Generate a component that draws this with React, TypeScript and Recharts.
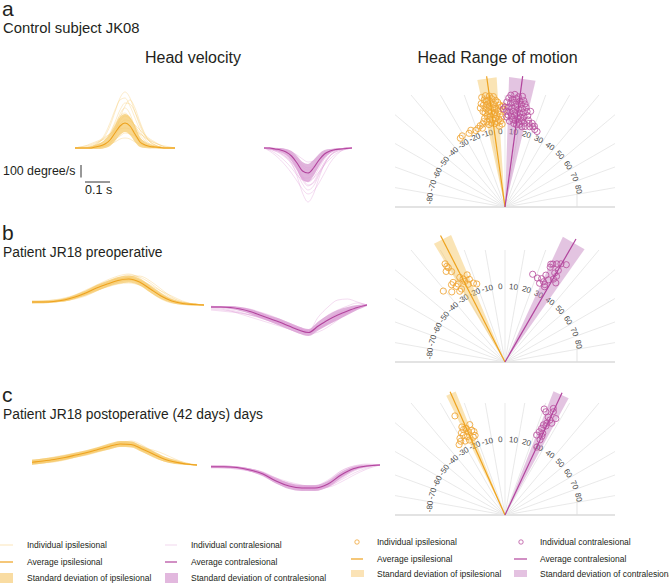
import React from 'react';
import { ComposedChart, Line, Area, XAxis, YAxis, ScatterChart, Scatter } from 'recharts';

const FONT = '"Liberation Sans", Arial, Helvetica, sans-serif';

// ---------------- Head velocity data (time in ms, velocity in degree/s) ----------------
// a: control subject JK08
const aIpsiTime = [0, 20, 40, 60, 80, 100, 120, 140, 160, 180, 200, 220, 240, 260, 280, 300, 320, 340, 360, 380, 400];
const aIpsiMean = [0, 0, 0, 0, 8, 16, 32, 64, 120, 176, 200, 176, 112, 48, 24, 12, 8, 4, 0, 0, 0];
const aIpsiSd = [0, 0, 0, 8, 16, 24, 32, 48, 64, 72, 72, 72, 64, 40, 24, 16, 8, 8, 0, 0, 0];
const aIpsiIndividual = [
  [0, 0, 0, 8, 24, 48, 96, 176, 288, 400, 448, 400, 288, 176, 96, 48, 24, 8, 0, 0, 0],
  [0, 0, 0, 0, 16, 32, 64, 120, 208, 304, 360, 352, 288, 192, 104, 48, 24, 8, 0, 0, 0],
  [0, 8, 16, 32, 48, 64, 88, 112, 136, 152, 160, 152, 136, 112, 88, 64, 40, 24, 8, 0, 0],
  [0, 0, 0, 8, 16, 32, 64, 112, 192, 256, 280, 240, 176, 104, 56, 24, 8, 0, 0, 0, 0],
  [0, 0, 8, 16, 32, 56, 80, 112, 152, 192, 224, 216, 184, 144, 104, 72, 48, 24, 8, 0, 0],
  [0, 0, 0, 0, 0, 8, 24, 64, 160, 272, 320, 272, 160, 64, 24, 8, 0, 0, 0, 0, 0],
  [0, 0, 0, 8, 8, 16, 32, 48, 72, 96, 120, 112, 96, 72, 48, 32, 16, 8, 0, 0, 0],
  [0, 0, 0, 8, 24, 56, 112, 200, 304, 384, 400, 336, 240, 144, 72, 32, 16, 8, 0, 0, 0],
  [0, 0, 0, 0, 0, 8, 16, 40, 96, 160, 200, 168, 96, 40, 16, 8, 0, 0, 0, 0, 0],
  [0, 8, 16, 24, 40, 56, 72, 96, 144, 216, 256, 232, 176, 120, 80, 56, 40, 24, 16, 8, 0],
  [0, 0, 0, 0, 8, 8, 16, 32, 48, 72, 80, 72, 48, 32, 16, 8, 8, 0, 0, 0, 0],
  [0, 0, 0, 0, 8, 16, 32, 64, 128, 240, 336, 384, 320, 208, 112, 56, 24, 8, 0, 0, 0],
];
const aContraTime = [0, 22, 44, 66, 88, 110, 132, 154, 176, 198, 220, 242, 264, 286, 308, 330, 352];
const aContraMean = [0, 0, -8, -16, -32, -64, -120, -184, -200, -160, -96, -48, -24, -12, -8, -4, 0];
const aContraSd = [0, 4, 8, 16, 24, 40, 56, 72, 72, 64, 48, 32, 16, 8, 4, 0, 0];
const aContraIndividual = [
  [0, -8, -16, -32, -64, -120, -224, -360, -432, -368, -240, -128, -64, -32, -16, -8, 0],
  [0, -8, -24, -48, -80, -128, -200, -288, -336, -304, -216, -128, -64, -32, -16, -8, 0],
  [0, -16, -40, -72, -112, -160, -216, -256, -264, -240, -192, -136, -88, -48, -24, -8, 0],
  [0, 0, -8, -16, -32, -64, -112, -176, -216, -192, -128, -72, -32, -16, -8, 0, 0],
  [0, -8, -16, -24, -48, -80, -144, -224, -272, -240, -160, -88, -40, -16, -8, 0, 0],
  [0, 0, -8, -8, -16, -32, -56, -88, -112, -104, -72, -40, -24, -8, -8, 0, 0],
  [0, -8, -16, -32, -56, -96, -160, -256, -304, -272, -192, -112, -56, -24, -8, 0, 0],
  [0, -24, -56, -96, -144, -200, -264, -328, -368, -344, -280, -200, -120, -64, -24, -8, 0],
  [0, 0, -8, -16, -24, -48, -96, -152, -176, -152, -96, -56, -24, -8, -8, 0, 0],
  [0, -8, -16, -40, -72, -112, -176, -240, -240, -208, -144, -80, -40, -16, -8, 0, 0],
  [0, 0, 0, -8, -24, -48, -88, -136, -160, -144, -104, -64, -32, -16, -8, 0, 0],
  [0, -8, -24, -40, -72, -112, -168, -240, -296, -280, -208, -128, -64, -24, -8, 0, 0],
];

// b: patient JR18 preoperative
const bIpsiTime = [0, 43, 86, 129, 172, 215, 258, 301, 344, 387, 430, 473, 516, 559, 602, 645, 688];
const bIpsiMean = [24, 24, 28, 40, 64, 96, 136, 168, 196, 208, 184, 128, 72, 32, 12, 4, 0];
const bIpsiSd = [8, 8, 8, 12, 16, 20, 24, 24, 28, 28, 28, 28, 24, 16, 12, 8, 4];
const bIpsiIndividual = [
  [24, 24, 32, 48, 80, 120, 160, 200, 232, 248, 216, 144, 80, 40, 16, 8, 0],
  [16, 16, 24, 32, 48, 72, 112, 152, 184, 200, 192, 152, 96, 48, 16, 8, 0],
  [32, 32, 40, 56, 80, 112, 152, 176, 200, 216, 176, 112, 56, 24, 8, 0, 0],
  [24, 24, 24, 40, 56, 88, 128, 176, 216, 240, 224, 176, 112, 56, 24, 8, 0],
  [16, 24, 32, 48, 72, 96, 120, 144, 168, 176, 160, 128, 80, 40, 16, 8, 0],
  [24, 24, 32, 40, 64, 104, 152, 192, 208, 216, 192, 136, 72, 32, 16, 8, 0],
  [24, 32, 40, 48, 64, 88, 120, 160, 192, 224, 232, 192, 128, 64, 24, 8, 0],
  [16, 16, 24, 32, 56, 96, 144, 184, 208, 208, 168, 104, 48, 16, 8, 0, 0],
  [24, 24, 32, 48, 72, 104, 136, 168, 200, 224, 200, 160, 112, 72, 32, 8, 0],
  [32, 32, 32, 40, 56, 80, 112, 152, 184, 200, 184, 136, 80, 40, 16, 8, 0],
];
const bContraTime = [0, 39, 78, 117, 156, 195, 234, 273, 312, 351, 390, 429, 468, 507, 546, 585, 624];
const bContraMean = [-16, -16, -20, -32, -52, -80, -108, -136, -168, -200, -220, -168, -120, -80, -48, -20, 0];
const bContraSd = [8, 8, 12, 16, 20, 24, 24, 28, 28, 28, 28, 36, 40, 40, 32, 20, 8];
const bContraIndividual = [
  [-16, -16, -24, -40, -64, -96, -128, -160, -192, -224, -240, -176, -112, -64, -32, -8, 0],
  [-16, -24, -40, -56, -80, -104, -128, -152, -176, -200, -216, -192, -144, -96, -56, -24, 0],
  [-32, -40, -48, -64, -80, -96, -112, -128, -152, -184, -208, -168, -120, -88, -56, -24, 0],
  [-16, -16, -16, -24, -40, -64, -88, -120, -152, -184, -208, -96, -16, 40, 48, 24, 0],
  [-8, -16, -16, -24, -40, -64, -96, -128, -160, -192, -216, -184, -136, -96, -56, -24, 0],
  [-16, -16, -24, -32, -48, -72, -104, -136, -168, -192, -208, -160, -104, -72, -40, -16, 0],
  [-24, -32, -48, -72, -96, -120, -144, -168, -192, -216, -232, -216, -176, -120, -64, -24, 0],
  [-16, -16, -16, -24, -32, -56, -80, -112, -144, -176, -200, -144, -80, -40, -8, 16, 0],
  [-16, -16, -24, -32, -56, -88, -120, -144, -168, -192, -224, -192, -152, -112, -72, -32, 0],
  [-40, -48, -56, -64, -80, -96, -120, -144, -168, -192, -208, -184, -144, -104, -64, -24, 0],
];

// c: patient JR18 postoperative
const cIpsiTime = [0, 44, 88, 132, 176, 220, 264, 308, 352, 396, 440, 484, 528, 572, 616, 660];
const cIpsiMean = [22, 32, 44, 60, 80, 100, 124, 148, 168, 164, 128, 88, 48, 24, 8, 0];
const cIpsiSd = [20, 20, 20, 20, 20, 20, 20, 24, 24, 24, 24, 24, 20, 16, 8, 4];
const cIpsiIndividual = [
  [8, 16, 32, 48, 72, 96, 120, 152, 184, 184, 136, 88, 40, 16, 8, 0],
  [32, 48, 56, 72, 88, 104, 128, 152, 160, 160, 136, 96, 56, 24, 8, 0],
  [24, 32, 40, 56, 72, 88, 112, 136, 160, 176, 152, 112, 64, 32, 8, 0],
  [16, 24, 40, 56, 80, 104, 136, 160, 176, 160, 112, 64, 32, 16, 8, 0],
  [40, 48, 64, 80, 96, 112, 128, 144, 160, 152, 136, 120, 88, 48, 16, 0],
  [16, 24, 32, 48, 72, 96, 120, 144, 168, 192, 160, 104, 48, 24, 8, 0],
  [24, 32, 48, 64, 80, 96, 112, 136, 152, 152, 120, 80, 48, 24, 8, 0],
  [8, 16, 24, 40, 64, 88, 112, 144, 176, 168, 120, 72, 32, 16, 8, 0],
  [32, 40, 56, 72, 88, 112, 136, 160, 184, 176, 144, 104, 64, 40, 16, 0],
  [16, 24, 32, 48, 64, 80, 104, 128, 152, 168, 144, 96, 56, 24, 8, 0],
];
const cContraTime = [0, 52, 104, 156, 208, 260, 312, 364, 416, 468, 520, 572, 624, 676];
const cContraMean = [-14, -14, -20, -40, -72, -128, -168, -184, -184, -152, -80, -28, -8, 0];
const cContraSd = [8, 8, 8, 12, 16, 20, 24, 24, 24, 24, 24, 16, 8, 4];
const cContraIndividual = [
  [-16, -16, -24, -48, -88, -144, -184, -200, -192, -152, -72, -24, -8, 0],
  [-8, -8, -16, -32, -56, -104, -152, -176, -184, -168, -104, -40, -8, 0],
  [-16, -16, -24, -40, -72, -120, -160, -184, -192, -160, -88, -32, -8, 0],
  [-8, -16, -24, -48, -80, -128, -168, -184, -176, -128, -48, -8, 8, 0],
  [-24, -24, -32, -48, -72, -112, -144, -168, -176, -168, -120, -64, -24, 0],
  [-16, -16, -16, -32, -64, -120, -168, -192, -200, -176, -96, -32, -8, 0],
  [-8, -8, -16, -32, -64, -112, -160, -176, -168, -120, -48, -8, 0, 0],
  [-16, -24, -32, -48, -72, -104, -136, -160, -176, -176, -136, -80, -32, 0],
  [-8, -8, -16, -40, -80, -136, -176, -192, -184, -144, -64, -16, 0, 0],
  [-16, -16, -24, -40, -64, -104, -152, -176, -192, -176, -112, -48, -16, 0],
];

// ---------------- Head range of motion data (angle in degrees, radius) ----------------
const gridAngles = [-80, -70, -60, -50, -40, -30, -20, -10, 0, 10, 20, 30, 40, 50, 60, 70, 80];
const angleLabels = ['-80', '-70', '-60', '-50', '-40', '-30', '-20', '-10', '0', '10', '20', '30', '40', '50', '60', '70', '80'];

const aIpsiAngle = [-12, -10, -8, -6, -11, -9, -7, -5, -13, -4, -12, -10, -8, -6, -3, -11, -9, -7, -5, -2, -13, -12, -10, -8, -6, -4, -1, -11, -9, -7, -5, -3, -13, -2, -10, -8, -6, -4, -12, -15, -17, -14, -9, -7, -5, -3, -11, -19, -21, -16, -24, -26, -31, -33, -2, -4, -1, -14, -10, -6];
const aIpsiRadius = [112, 113, 112, 111, 109, 108, 109, 107, 106, 105, 104, 104, 105, 103, 102, 100, 101, 100, 99, 100, 98, 96, 97, 96, 95, 96, 97, 93, 92, 93, 92, 93, 91, 90, 89, 88, 89, 88, 87, 86, 85, 88, 85, 84, 85, 86, 84, 83, 82, 82, 84, 82, 83, 82, 83, 81, 101, 102, 107, 99];
const aContraAngle = [3, 5, 7, 9, 2, 4, 6, 8, 10, 1, 3, 5, 7, 9, 11, 12, 0, 2, 4, 6, 8, 10, 13, 1, 3, 5, 7, 9, 11, 14, 2, 4, 6, 8, 10, 12, 15, 5, 7, 9, 11, 13, 16, 6, 8, 10, 12, 14, 17, 19, 21, 23, 18, 20, 3, 15, -1, 1];
const aContraRadius = [112, 113, 111, 112, 109, 108, 109, 107, 108, 105, 104, 105, 103, 104, 105, 102, 100, 100, 99, 101, 99, 100, 98, 96, 95, 96, 94, 95, 96, 94, 92, 91, 92, 90, 91, 92, 90, 88, 87, 86, 88, 86, 87, 84, 83, 84, 82, 83, 84, 85, 83, 82, 88, 86, 86, 99, 98, 90];
const aIpsiMeanAngle = -8;
const aIpsiSdAngle = 4.3;
const aContraMeanAngle = 7.7;
const aContraSdAngle = 5.9;

const bIpsiAngle = [-31.4, -31.3, -31, -33, -30.6, -41, -37.2, -33.1, -31, -28.1, -26.8, -23.5, -23.3, -25.3, -21.8, -19.9, -30.8, -32.6, -32.8, -26.5, -34.7];
const bIpsiRadius = [115, 112, 110, 108, 105, 94, 88, 95, 91, 96, 93, 95, 90, 86, 85, 83, 85, 84, 90, 90, 94];
const bContraAngle = [17.5, 21.1, 23.7, 23.7, 25.6, 25.2, 27.7, 25.5, 26, 27.9, 29.7, 32.2, 30.2, 29.2, 31, 32.7, 27.2, 25.1, 27.9, 30.3];
const bContraRadius = [92, 90, 91, 86, 89, 96, 85, 105, 109, 111, 113, 115, 106, 102, 100, 94, 87, 108, 93, 96];
const bIpsiMeanAngle = -27;
const bIpsiSdAngle = 4;
const bContraMeanAngle = 30;
const bContraSdAngle = 5.2;

const cIpsiAngle = [-26.8, -26.1, -25.9, -27.9, -30.4, -33.1, -28.3, -25.7, -21.3, -21.4, -20.4, -20.6, -22.2, -23.8, -24.2, -25.4, -27.5, -31];
const cIpsiRadius = [111, 98, 95, 93, 89, 84, 84, 87, 97, 91, 89, 85, 84, 91, 95, 83, 90, 86];
const cContraAngle = [20.3, 21.6, 24.4, 27.8, 23.8, 25.3, 24.5, 23.1, 22.9, 22.4, 21.6, 24.8, 25.1, 25, 25.1, 27, 24.7, 25.1];
const cContraRadius = [113, 111, 117, 109, 107, 105, 101, 98, 94, 90, 86, 90, 87, 83, 75, 103, 98, 114];
const cIpsiMeanAngle = -24;
const cIpsiSdAngle = 2.2;
const cContraMeanAngle = 25;
const cContraSdAngle = 3.6;

// ---------------- styles ----------------
const MS_PER_PX = 4;
const DEG_PER_PX = 8;
const YEL_IND = '#f6c869';
const YEL_MEAN = '#eea21d';
const YEL_BAND = '#f3bd45';
const PNK_IND = '#df9ad7';
const PNK_MEAN = '#b2449d';
const PNK_BAND = '#cc82c4';
const YEL_PT = '#f0a535';
const PNK_PT = '#b9519f';
const YEL_WEDGE = '#f5c35c';
const PNK_WEDGE = '#c27cbd';
const TXT = '#231f20';

type Group = { t: number[]; mean: number[]; sd: number[]; ind: number[][] };

function VelocityPanel(props: {
  g: Group; left: number; baseline: number; ymin: number; ymax: number;
  indColor: string; meanColor: string; bandColor: string;
}) {
  const { g, left, baseline, ymin, ymax, indColor, meanColor, bandColor } = props;
  const tmax = g.t[g.t.length - 1];
  const width = tmax / MS_PER_PX;
  const height = (ymax - ymin) / DEG_PER_PX;
  const data = g.t.map((t, i) => {
    const row: Record<string, any> = { t, mean: g.mean[i], band: [g.mean[i] - g.sd[i], g.mean[i] + g.sd[i]] };
    g.ind.forEach((c, k) => { row['i' + k] = c[i]; });
    return row;
  });
  return (
    <div style={{ position: 'absolute', left, top: baseline - ymax / DEG_PER_PX, width, height }}>
      <ComposedChart width={width} height={height} data={data} margin={{ top: 0, right: 0, bottom: 0, left: 0 }}>
        <XAxis dataKey="t" type="number" domain={[0, tmax]} hide allowDataOverflow />
        <YAxis type="number" domain={[ymin, ymax]} hide allowDataOverflow />
        <Area dataKey="band" type="monotone" stroke="none" fill={bandColor} fillOpacity={0.6} isAnimationActive={false} activeDot={false} />
        {g.ind.map((_, k) => (
          <Line key={'i' + k} dataKey={'i' + k} type="monotone" stroke={indColor} strokeOpacity={0.5} strokeWidth={0.7} dot={false} activeDot={false} isAnimationActive={false} />
        ))}
        <Line dataKey="mean" type="monotone" stroke={meanColor} strokeWidth={1.1} dot={false} activeDot={false} isAnimationActive={false} />
      </ComposedChart>
    </div>
  );
}

const rad = (d: number) => (d * Math.PI) / 180;
const toXY = (angle: number, r: number) => ({ x: r * Math.sin(rad(angle)), y: r * Math.cos(rad(angle)) });
const BOX_HALF_W = 110;
const BOX_H = 112;
const rayEnd = (angle: number) => {
  const s = Math.sin(rad(angle));
  const c = Math.cos(rad(angle));
  const t = Math.min(BOX_H / c, Math.abs(s) > 1e-6 ? BOX_HALF_W / Math.abs(s) : Infinity);
  return { x: t * s, y: t * c };
};
const LABEL_R = 75.5;
const LABEL_SHIFT = -3.5;

const noShape = () => <g />;
const pathLine = (stroke: string, width: number, fill = 'none', fillOpacity = 1) => (p: any) => {
  const pts = (p.points || []) as { x: number; y: number }[];
  if (!pts.length) return <g />;
  const d = 'M' + pts.map((q) => `${q.x},${q.y}`).join('L') + (fill !== 'none' ? 'Z' : '');
  return <path d={d} stroke={stroke} strokeWidth={width} fill={fill} fillOpacity={fillOpacity} />;
};

type Side = { ang: number[]; rad: number[]; mean: number; sd: number };

function PolarPanel(props: { cy: number; ipsi: Side; contra: Side; wedgeR: number; lineR: number }) {
  const { cy, ipsi, contra, wedgeR, lineR } = props;
  const W = 280;
  const H = 160;
  const origin = { x: 0, y: 0 };
  const items: React.ReactNode[] = [];
  items.push(
    <Scatter key="base" data={[{ x: -BOX_HALF_W, y: 0 }, { x: BOX_HALF_W, y: 0 }]} line={pathLine('#c8c8c8', 1.2)} lineType="joint" shape={noShape} isAnimationActive={false} />
  );
  gridAngles.forEach((a) => {
    items.push(
      <Scatter key={'g' + a} data={[origin, rayEnd(a)]} line={pathLine('#e3e3e3', 0.8)} lineType="joint" shape={noShape} isAnimationActive={false} />
    );
  });
  items.push(
    <Scatter key="tick" data={[{ x: 72, y: 0 }, { x: 72, y: 15 }]} line={pathLine('#dcdcdc', 0.8)} lineType="joint" shape={noShape} isAnimationActive={false} />
  );
  const labelData = gridAngles.map((a, i) => ({ ...toXY(a + LABEL_SHIFT, LABEL_R), label: angleLabels[i], rot: a + LABEL_SHIFT }));
  items.push(
    <Scatter key="labels" data={labelData} isAnimationActive={false}
      shape={(p: any) => (
        <text x={p.cx} y={p.cy} transform={`rotate(${p.payload.rot} ${p.cx} ${p.cy})`} textAnchor="middle" dominantBaseline="central" fontSize={8} fill="#4a4a4a" fontFamily={FONT}>
          {p.payload.label}
        </text>
      )} />
  );
  const sides: [Side, string, string, string, string][] = [
    [ipsi, YEL_WEDGE, YEL_PT, YEL_MEAN, 'y'],
    [contra, PNK_WEDGE, PNK_PT, PNK_MEAN, 'p'],
  ];
  sides.forEach(([s, wedgeC, , , k]) => {
    items.push(
      <Scatter key={'w' + k} data={[origin, toXY(s.mean - s.sd, wedgeR), toXY(s.mean + s.sd, wedgeR)]} line={pathLine('none', 0, wedgeC, 0.45)} lineType="joint" shape={noShape} isAnimationActive={false} />
    );
  });
  sides.forEach(([s, , ptC, , k]) => {
    const pts = s.ang.map((a, i) => toXY(a, s.rad[i]));
    items.push(
      <Scatter key={'pt' + k} data={pts} isAnimationActive={false}
        shape={(p: any) => <circle cx={p.cx} cy={p.cy} r={3.1} fill="none" stroke={ptC} strokeWidth={0.85} />} />
    );
  });
  sides.forEach(([s, , , meanC, k]) => {
    items.push(
      <Scatter key={'m' + k} data={[origin, toXY(s.mean, lineR)]} line={pathLine(meanC, 1.2)} lineType="joint" shape={noShape} isAnimationActive={false} />
    );
  });
  return (
    <div style={{ position: 'absolute', left: 505 - 140, top: cy - 150, width: W, height: H }}>
      <ScatterChart width={W} height={H} margin={{ top: 0, right: 0, bottom: 0, left: 0 }}>
        <XAxis type="number" dataKey="x" domain={[-140, 140]} hide allowDataOverflow />
        <YAxis type="number" dataKey="y" domain={[-10, 150]} hide allowDataOverflow />
        {items}
      </ScatterChart>
    </div>
  );
}

function Texts() {
  const lg = 8.5;
  return (
    <svg width={669} height={583} style={{ position: 'absolute', left: 0, top: 0 }} fontFamily={FONT}>
      <text x={2} y={16} fontSize={21} fill={TXT}>a</text>
      <text x={3} y={32.5} fontSize={14.8} fill={TXT}>Control subject JK08</text>
      <text x={193} y={63} fontSize={16} fill={TXT} textAnchor="middle">Head velocity</text>
      <text x={497.5} y={63} fontSize={16} fill={TXT} textAnchor="middle">Head Range of motion</text>
      <text x={3} y={174.5} fontSize={12.4} fill={TXT}>100 degree/s</text>
      <line x1={81} y1={165} x2={81} y2={177.5} stroke="#333" strokeWidth={1} />
      <line x1={85} y1={182} x2={110} y2={182} stroke="#333" strokeWidth={1} />
      <text x={85} y={194} fontSize={12.6} fill={TXT}>0.1 s</text>
      <text x={2} y={240} fontSize={21} fill={TXT}>b</text>
      <text x={3} y={256.5} fontSize={13.8} fill={TXT}>Patient JR18 preoperative</text>
      <text x={2} y={402} fontSize={21} fill={TXT}>c</text>
      <text x={3} y={419} fontSize={13.8} fill={TXT}>Patient JR18 postoperative (42 days) days</text>

      {/* velocity legend */}
      <line x1={0} y1={545} x2={13} y2={545} stroke="#fbe9c4" strokeWidth={1.2} />
      <text x={27} y={548} fontSize={lg} fill={TXT}>Individual ipsilesional</text>
      <line x1={0} y1={562} x2={13} y2={562} stroke={YEL_MEAN} strokeWidth={1.2} />
      <text x={27} y={565} fontSize={lg} fill={TXT}>Average ipsilesional</text>
      <rect x={0} y={573} width={13} height={10} fill="#f9dca2" />
      <text x={27} y={580.5} fontSize={lg} fill={TXT}>Standard deviation of ipsilesional</text>
      <line x1={165} y1={545} x2={177} y2={545} stroke="#f3ddf0" strokeWidth={1.2} />
      <text x={191} y={548} fontSize={lg} fill={TXT}>Individual contralesional</text>
      <line x1={165} y1={562} x2={177} y2={562} stroke={PNK_MEAN} strokeWidth={1.2} />
      <text x={191} y={565} fontSize={lg} fill={TXT}>Average contralesional</text>
      <rect x={165} y={573} width={13} height={10} fill="#e2b8de" />
      <text x={191} y={580.5} fontSize={lg} fill={TXT}>Standard deviation of contralesional</text>

      {/* range of motion legend */}
      <circle cx={357} cy={542} r={2.2} fill="none" stroke={YEL_PT} strokeWidth={0.8} />
      <text x={377} y={545} fontSize={lg} fill={TXT}>Individual ipsilesional</text>
      <line x1={351} y1={559} x2={363} y2={559} stroke={YEL_MEAN} strokeWidth={1.2} />
      <text x={377} y={561.5} fontSize={lg} fill={TXT}>Average ipsilesional</text>
      <rect x={351} y={570} width={13} height={7} fill="#fbe3b6" />
      <text x={377} y={576.5} fontSize={lg} fill={TXT}>Standard deviation of ipsilesional</text>
      <circle cx={521} cy={542} r={2.2} fill="none" stroke={PNK_PT} strokeWidth={0.8} />
      <text x={540} y={545} fontSize={lg} fill={TXT}>Individual contralesional</text>
      <line x1={514} y1={559} x2={527} y2={559} stroke={PNK_MEAN} strokeWidth={1.2} />
      <text x={540} y={561.5} fontSize={lg} fill={TXT}>Average contralesional</text>
      <rect x={514} y={570} width={13} height={7} fill="#e4c2e1" />
      <text x={540} y={576.5} fontSize={lg} fill={TXT}>Standard deviation of contralesional</text>
    </svg>
  );
}

export default function App() {
  const Y = { indColor: YEL_IND, meanColor: YEL_MEAN, bandColor: YEL_BAND };
  const P = { indColor: PNK_IND, meanColor: PNK_MEAN, bandColor: PNK_BAND };
  return (
    <div style={{ position: 'absolute', left: 0, top: 0, width: 669, height: 583, background: '#fff', overflow: 'hidden', fontFamily: FONT }}>
      <Texts />
      <VelocityPanel g={{ t: aIpsiTime, mean: aIpsiMean, sd: aIpsiSd, ind: aIpsiIndividual }} left={75} baseline={148} ymin={-40} ymax={480} {...Y} />
      <VelocityPanel g={{ t: aContraTime, mean: aContraMean, sd: aContraSd, ind: aContraIndividual }} left={264} baseline={148} ymin={-480} ymax={40} {...P} />
      <VelocityPanel g={{ t: bIpsiTime, mean: bIpsiMean, sd: bIpsiSd, ind: bIpsiIndividual }} left={32} baseline={305} ymin={-40} ymax={280} {...Y} />
      <VelocityPanel g={{ t: bContraTime, mean: bContraMean, sd: bContraSd, ind: bContraIndividual }} left={211} baseline={305} ymin={-280} ymax={80} {...P} />
      <VelocityPanel g={{ t: cIpsiTime, mean: cIpsiMean, sd: cIpsiSd, ind: cIpsiIndividual }} left={32} baseline={465} ymin={-40} ymax={240} {...Y} />
      <VelocityPanel g={{ t: cContraTime, mean: cContraMean, sd: cContraSd, ind: cContraIndividual }} left={211} baseline={465} ymin={-240} ymax={40} {...P} />
      <PolarPanel cy={207} wedgeR={130} lineR={132}
        ipsi={{ ang: aIpsiAngle, rad: aIpsiRadius, mean: aIpsiMeanAngle, sd: aIpsiSdAngle }}
        contra={{ ang: aContraAngle, rad: aContraRadius, mean: aContraMeanAngle, sd: aContraSdAngle }} />
      <PolarPanel cy={362} wedgeR={138} lineR={142}
        ipsi={{ ang: bIpsiAngle, rad: bIpsiRadius, mean: bIpsiMeanAngle, sd: bIpsiSdAngle }}
        contra={{ ang: bContraAngle, rad: bContraRadius, mean: bContraMeanAngle, sd: bContraSdAngle }} />
      <PolarPanel cy={515} wedgeR={133} lineR={135}
        ipsi={{ ang: cIpsiAngle, rad: cIpsiRadius, mean: cIpsiMeanAngle, sd: cIpsiSdAngle }}
        contra={{ ang: cContraAngle, rad: cContraRadius, mean: cContraMeanAngle, sd: cContraSdAngle }} />
    </div>
  );
}
